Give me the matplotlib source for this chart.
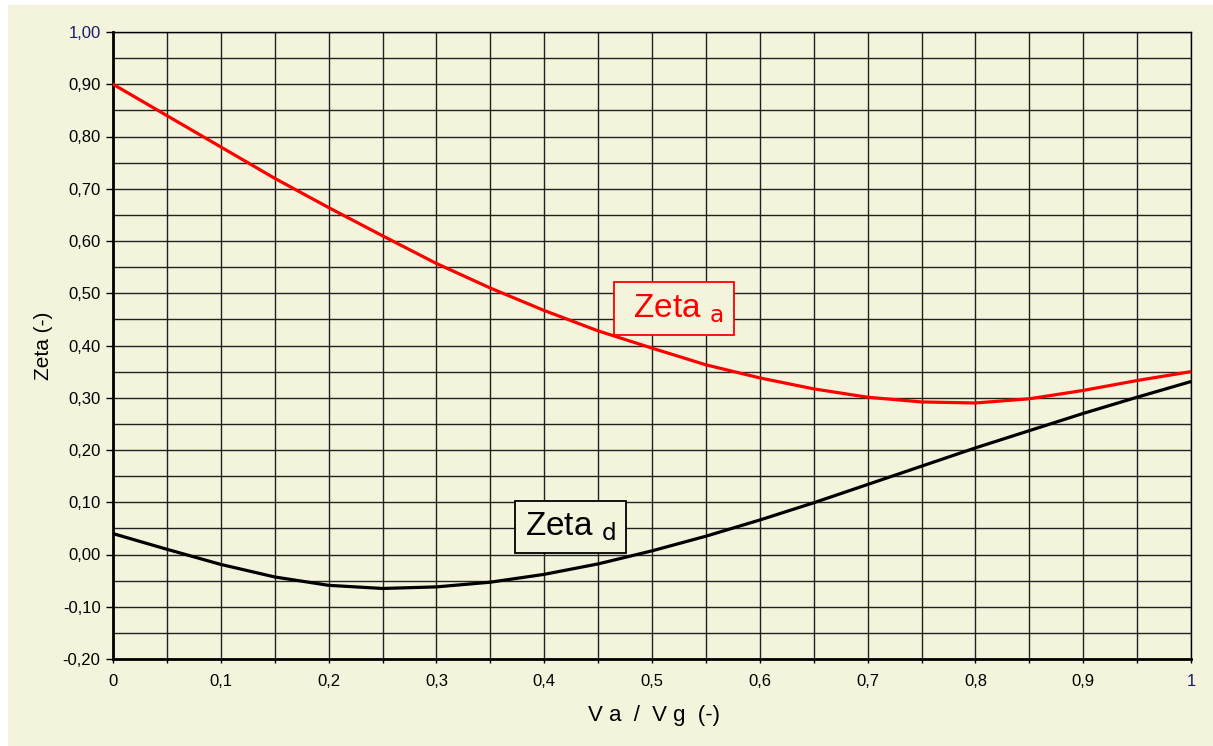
import numpy as np
import matplotlib
matplotlib.use('Agg')
import matplotlib.pyplot as plt
from matplotlib.patches import Rectangle
from matplotlib.ticker import MultipleLocator, FixedLocator

plt.rcParams['font.family'] = ['Liberation Sans', 'DejaVu Sans']

# data
va_vg = [0.0, 0.05, 0.1, 0.15, 0.2, 0.25, 0.3, 0.35, 0.4, 0.45, 0.5,
         0.55, 0.6, 0.65, 0.7, 0.75, 0.8, 0.85, 0.9, 0.95, 1.0]
zeta_a = [0.900, 0.840, 0.780, 0.720, 0.664, 0.610, 0.557, 0.510, 0.467, 0.428, 0.395,
          0.363, 0.338, 0.317, 0.301, 0.292, 0.290, 0.298, 0.314, 0.333, 0.350]
zeta_d = [0.040, 0.010, -0.019, -0.043, -0.059, -0.065, -0.062, -0.053, -0.038, -0.018, 0.007,
          0.035, 0.066, 0.099, 0.134, 0.169, 0.204, 0.237, 0.270, 0.301, 0.331]

x_ticks = [0, 0.1, 0.2, 0.3, 0.4, 0.5, 0.6, 0.7, 0.8, 0.9, 1.0]
x_labels = ['0', '0,1', '0,2', '0,3', '0,4', '0,5', '0,6', '0,7', '0,8', '0,9', '1']
y_ticks = [-0.2, -0.1, 0.0, 0.1, 0.2, 0.3, 0.4, 0.5, 0.6, 0.7, 0.8, 0.9, 1.0]

bg = '#F4F4DC'

fig = plt.figure(figsize=(12.13, 7.46), dpi=100, facecolor='white')
# cream panel behind the chart
fig.patches.append(Rectangle((8 / 1213, 0), 1 - 8 / 1213, 1 - 5 / 746,
                             transform=fig.transFigure, facecolor=bg,
                             edgecolor='none', zorder=-10))
ax = fig.add_axes([113 / 1213, 87 / 746, 1078 / 1213, 627 / 746])
ax.set_facecolor(bg)

ax.plot(va_vg, zeta_a, color='#FF0000', lw=2.3, zorder=3, solid_capstyle='round')
ax.plot(va_vg, zeta_d, color='black', lw=2.3, zorder=3, solid_capstyle='round')

ax.set_xlim(0, 1)
ax.set_ylim(-0.2, 1.0)

ax.xaxis.set_major_locator(FixedLocator(x_ticks))
ax.set_xticklabels(x_labels)
ax.xaxis.set_minor_locator(MultipleLocator(0.05))
ax.yaxis.set_major_locator(FixedLocator(y_ticks))
ax.set_yticklabels([('%.2f' % v).replace('.', ',').replace('-0,00', '0,00') for v in y_ticks])
ax.yaxis.set_minor_locator(MultipleLocator(0.05))

ax.grid(which='both', color='#222222', lw=1.0, zorder=1)
ax.set_axisbelow(True)

ax.tick_params(axis='y', which='major', direction='out', length=5, width=1,
               labelsize=12, pad=4, colors='black')
ax.tick_params(axis='y', which='minor', length=0)
ax.tick_params(axis='x', which='both', direction='out', length=3, width=1,
               labelsize=12, pad=8)
ax.get_yticklabels()[-1].set_color('#1a1a6e')
ax.get_xticklabels()[-1].set_color('#1a1a6e')

for side in ['left', 'bottom']:
    ax.spines[side].set_linewidth(2)
for side in ['right', 'top']:
    ax.spines[side].set_linewidth(1)

ax.set_ylabel('Zeta (-)', fontsize=15)
ax.yaxis.set_label_coords(-0.056, 0.5)
ax.set_xlabel('V a  /  V g  (-)', fontsize=16)
ax.xaxis.set_label_coords(0.502, -0.073)

# curve labels
ax.text(0.474, 0.4546, r' Zeta $_{\mathrm{a}}$', color='#FF0000', fontsize=24,
        ha='left', va='baseline', zorder=4,
        bbox=dict(boxstyle='square,pad=0.3', facecolor=bg, edgecolor='#FF0000', lw=1.3))
ax.text(0.382, 0.036, r'Zeta $_{\mathrm{d}}$', color='black', fontsize=24,
        ha='left', va='baseline', zorder=4,
        bbox=dict(boxstyle='square,pad=0.3', facecolor=bg, edgecolor='black', lw=1.3))

fig.savefig('out.png', dpi=100, facecolor=fig.get_facecolor())
